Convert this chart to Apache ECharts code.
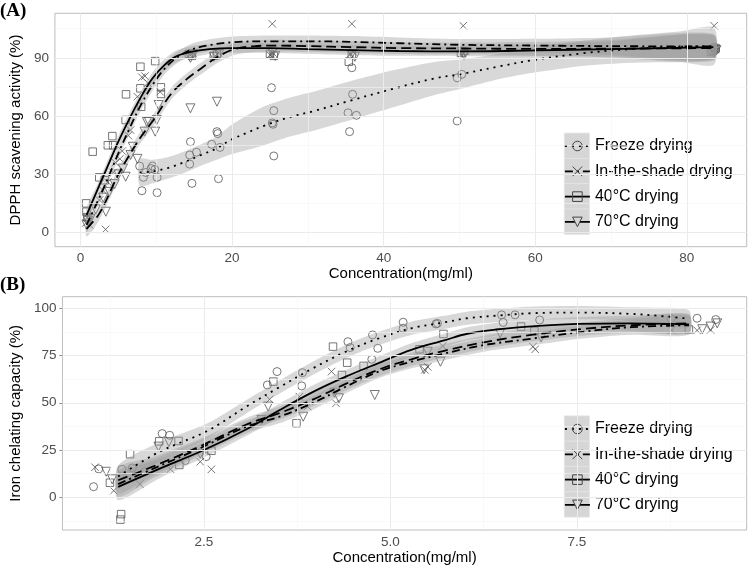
<!DOCTYPE html>
<html><head><meta charset="utf-8">
<script src="https://cdn.jsdelivr.net/npm/echarts@6/dist/echarts.min.js"></script>
<style>html,body{margin:0;padding:0;background:#fff}#c{width:750px;height:569px}</style>
</head><body><div id="c"></div>
<script>
const groupNames = ['Freeze drying', 'In-the-shade drying', '40°C drying', '70°C drying'];

// ---------- Panel A (DPPH) observed points ----------
const aFreezePts = [[7.8,34.3],[8.6,31],[9.3,33],[9.5,34.3],[9.8,32.5],[8.3,28.5],[10.1,28.5],[8.1,21.6],[10.1,20.6],
  [14.5,46.8],[14.4,40],[15.3,41.4],[14.4,35.3],[14.7,25.4],
  [18.0,52],[18.1,51],[17.3,45.5],[18.4,43.9],[18.2,27.8],
  [25.2,74.6],[25.5,62.8],[25.4,55.8],[25.3,56.5],[25.5,39.5],
  [35.8,84.9],[35.9,71.2],[35.3,61.7],[36.4,60.4],[35.5,52],
  [49.7,57.5],[49.7,79.7],[50.3,81.5],
  [83.4,93.5],[83.6,95.5],[83.8,94]];
const aShadePts = [[0.7,5],[0.9,8],[1.2,4],[2.5,16.8],[2.9,22],[3.3,1.7],[3.6,26],[4.3,31],[4.6,36],[5.2,38],[5.5,42],
  [6.3,50],[6.6,52.8],[7.5,70],[8.1,80],[8.5,80.6],[8.9,77],[10.5,72.5],[14.4,91.5],[14.8,92.5],[17.8,91],[18.2,92.5],
  [25.0,91.5],[25.4,92.5],[25.3,107.5],[35.6,92],[36.0,93],[35.8,107.5],[50.4,92.5],[50.8,93.5],[50.5,106.5],
  [83.3,93],[83.7,94.5],[83.6,106.5]];
const a40Pts = [[0.74,15.1],[0.78,10.8],[0.9,8],[1.6,41.7],[2.47,28.5],[3.2,27],[3.6,45],[4.2,49.7],[4.3,45],[5.95,58],
  [6.0,71.2],[7.9,74.3],[7.9,85.4],[8.0,64.8],[9.85,88.3],[10.6,74.8],[10.6,71.4],[14.3,92],[14.7,91],[17.6,91],[18,92],
  [25,92],[25.5,91],[35.4,88],[35.8,91.5],[50.2,92.5],[50.6,93.5],[83.2,93],[83.8,95]];
const a70Pts = [[0.8,4],[1.0,6],[1.3,7],[2.0,12],[3.34,10.8],[3.0,18],[3.8,21],[4.5,25],[5.0,30],[5.6,33],[5.95,28.8],
  [6.6,40],[6.9,44.2],[7.5,38],[8.46,52],[8.76,57],[9.0,57.1],[9.85,52],[10.06,58],[10.3,65.7],[14.5,64],[18.0,67.4],
  [14.5,90],[14.9,92],[17.6,90.5],[18.3,92],[25.3,92.5],[25.7,91],[35.8,92],[36.2,90.5],[50.3,93],[50.6,91.5],
  [83.6,92.5],[83.9,94]];

// ---------- Panel A smooth fits ----------
const aFreezeFitX = [7.8,9.5,11.6,13.5,15.9,18,19.8,22,24.2,27.6,30.7,35.9,41.5,46.7,50.2,55.4,59.7,66.2,72.7,79.3,83.6];
const aFreezeFitY = [31,31.5,33.4,36,40,43.5,47.7,51.5,55,59.5,62.5,68.3,74.3,79.4,81.6,85.7,88.8,92.3,94.5,95.7,96];
const aFreezeFitSe = [7,6,5.5,5.5,5.5,6,7.5,9,10,10,10,10,9.5,8.5,7.5,6.5,6.5,6.5,7,8,9.5];
const aFitX = [0.8,2,3.5,5,6.5,8,9.5,11,12.5,14.5,17,20,25,30,35.7,42,50,60,70,83.5];
const aShadeFitY = [4,14,27,41,54,66,76,84,89.5,94,96.5,98,98.5,98.5,98.2,97.5,96.7,96.3,96,95.8];
const aShadeFitSe = [4,3,3,3,3,3,3,3,3,3,3,3,3,3,3,3,3,3.5,4.5,6.5];
const a40FitY = [9,20,33.5,47,59,70,79.5,86,90.5,93,94.5,95,95,94.5,94,93.5,93.3,93.8,94.5,95.5];
const a40FitSe = [4,3,3,3,3,3,3,3,3,3,2.5,2.5,2.5,2.5,2.5,2.5,2.5,3,4,6.5];
const a70FitX = [0.8,2.25,3.12,5.07,7.68,9.63,12,14,15.9,18.1,20.3,23,25.5,30,35.7,42,50,60,70,83.5];
const a70FitY = [2,8.5,14.5,30.5,47.7,58,71.7,79,84.5,90.5,94.5,96,96.3,96,95.5,95,94.8,94.6,94.7,95];
const a70FitSe = [4,3.5,3,3,3,3,3,3,3,3,3,3,3,3,3,3,3,3.5,4.5,6.5];

// ---------- Panel B (iron chelating) observed points ----------
const bFreezePts = [[1.02,5.6],[1.09,15],[1.40,14.8],[1.54,15.5],[1.71,13.5],[1.94,33.7],[2.04,32.8],[2.25,19.5],[2.53,21.5],
  [3.35,59.4],[3.48,66.5],[3.81,58.9],[3.82,65.9],[4.43,82.3],[4.46,79.2],[4.75,73],[4.76,85.9],[4.83,78.8],
  [5.17,92.6],[5.17,89.4],[5.61,91.7],[5.63,92],[6.49,96.5],[6.51,92.5],[6.67,96.5],[7.0,93.8],[8.76,94.5],[9.11,94.7],[9.36,94]];
const bShadePts = [[1.04,15.9],[1.29,3.5],[1.64,7],[2.05,14.9],[2.45,18.8],[2.6,14.8],[3.38,51.8],[3.78,53.2],[3.89,48],
  [4.21,66.5],[4.27,49.7],[5.46,67.4],[5.50,69],[5.7,80],[6.91,79.7],[6.94,78.3],[8.77,88.5],[9.11,88.3],[9.29,88.5]];
const b40Pts = [[1.24,7.7],[1.38,-11.8],[1.39,-8.9],[1.51,22.8],[1.9,29.6],[2.16,29.8],[2.17,17.1],[2.6,24.6],[3.43,61.2],
  [3.74,39.2],[4.23,79.7],[4.35,64.7],[4.42,71.2],[4.64,69.5],[5.39,78.3],[5.71,86.4],[6.75,90.3],[6.93,88],[9.0,88.8]];
const b70Pts = [[1.19,13.5],[1.27,9.5],[1.89,26.8],[2.03,29.2],[2.45,23],[3.27,40.9],[3.36,48],[3.73,47.6],[3.83,42.6],
  [4.25,55.3],[4.31,52.4],[4.79,54.1],[5.45,67.7],[5.5,77],[5.67,71.7],[6.47,86.8],[7.02,84.5],[9.18,88.9],[9.29,90.3],[9.38,92]];

// ---------- Panel B smooth fits ----------
const bFreezeFitX = [1.35,1.9,2.54,3.07,3.5,3.95,4.4,4.84,5.28,5.72,6.03,6.5,6.91,7.57,8.23,8.5,9.0];
const bFreezeFitY = [11,24,35,48,58,68,77,84,89.4,92.5,94.7,96.3,97.4,97.7,97,96.3,94.5];
const bFreezeFitSe = [6,5,4,3.5,3.5,3.5,3.5,3.5,3.5,3.5,3.5,3.5,3.5,3.5,3.5,4,4.5];
const b40FitX = [1.35,1.9,2.5,3.07,3.51,3.95,4.4,4.84,5.28,5.72,6.03,6.47,7.35,8.23,9.0];
const b40FitY = [5.5,15,25,36,46,55.5,63.8,71,78,83,86.5,89,91.5,92,91.5];
const bFitX = [1.35,1.83,2.45,3.07,3.51,3.95,4.4,4.84,5.28,5.72,6.25,6.91,7.57,8.23,9.0];
const bShadeFitY = [7,15.3,26,37.4,42.6,49.7,58.5,66.5,71.7,76,80.5,84,87.5,90,91];
const b70FitY = [9,16.5,27,38.5,44.5,51.5,60,67.5,73,77.5,82,86,89,91,92];
const bFitSe = [7,5,4,3.5,3.5,3.5,3.5,3.5,3.5,3.5,3.5,3.5,3.5,4,5];

// ---------- ticks / grid ----------
const aXTicks = [0,20,40,60,80], aYTicks = [0,30,60,90];
const aXMinor = [10,30,50,70], aYMinor = [15,45,75,105];
const bXTicks = [2.5,5,7.5], bYTicks = [0,25,50,75,100];
const bXMinor = [1.25,3.75,6.25,8.75], bYMinor = [-12.5,12.5,37.5,62.5,87.5];

const FONT = '"Liberation Sans", Arial, sans-serif';
const symbols = ['circle', 'path://M0,0L10,10M10,0L0,10', 'rect', 'triangle'];
const symRot = [0, 0, 0, 180];
const symSize = [8, 7.5, 7.5, 9];
const dashes = [[2,5], [8,4,2,4], 'solid', [10,5]];

function zip(xs, ys) { return xs.map((x, i) => [x, ys[i]]); }

function scatter(gi, pts, k) {
  return { type: 'scatter', name: 'pts' + gi + k, xAxisIndex: gi, yAxisIndex: gi, data: pts, z: 2,
    symbol: symbols[k], symbolRotate: symRot[k], symbolSize: symSize[k], silent: true,
    itemStyle: { color: 'rgba(0,0,0,0)', borderColor: '#555', borderWidth: 1 } };
}
function band(gi, xs, ys, se) {
  return { type: 'custom', xAxisIndex: gi, yAxisIndex: gi, z: 3, silent: true,
    data: [[xs[0], ys[0]]],
    renderItem: (params, api) => {
      const pts = [];
      for (let i = 0; i < xs.length; i++) pts.push(api.coord([xs[i], ys[i] + se[i]]));
      for (let i = xs.length - 1; i >= 0; i--) pts.push(api.coord([xs[i], ys[i] - se[i]]));
      return { type: 'polygon', shape: { points: pts, smooth: 0.25 }, style: { fill: 'rgba(153,153,153,0.38)' } };
    } };
}
function fit(gi, xs, ys, k) {
  return { type: 'line', name: groupNames[k], xAxisIndex: gi, yAxisIndex: gi, data: zip(xs, ys), z: 4,
    smooth: 0.35, showSymbol: false, symbol: symbols[k], symbolRotate: symRot[k], silent: true,
    itemStyle: { color: 'rgba(0,0,0,0)', borderColor: '#444', borderWidth: 1 },
    lineStyle: { color: '#000', width: 1.8, type: dashes[k] } };
}
function gridLines(gi, xMaj, yMaj, xMin, yMin) {
  const maj = { color: '#ebebeb', width: 1 }, mn = { color: '#f5f5f5', width: 0.6 };
  const d = [];
  xMin.forEach(v => d.push({ xAxis: v, lineStyle: mn }));
  yMin.forEach(v => d.push({ yAxis: v, lineStyle: mn }));
  xMaj.forEach(v => d.push({ xAxis: v, lineStyle: maj }));
  yMaj.forEach(v => d.push({ yAxis: v, lineStyle: maj }));
  return { type: 'line', name: 'grid' + gi, xAxisIndex: gi, yAxisIndex: gi, data: [], z: 0, silent: true,
    markLine: { silent: true, symbol: ['none', 'none'], label: { show: false }, animation: false,
      lineStyle: { type: 'solid' }, data: d } };
}
function xAxis(gi, min, max, ticks, name, gap, fmt) {
  return { type: 'value', gridIndex: gi, min: min, max: max, splitLine: { show: false },
    axisLine: { show: false },
    axisTick: { show: true, customValues: ticks, length: 3, lineStyle: { color: '#888' } },
    axisLabel: { customValues: ticks, color: '#4d4d4d', fontSize: 13.5, fontFamily: FONT, margin: 5, formatter: fmt },
    name: name, nameLocation: 'middle', nameGap: gap, nameTextStyle: { color: '#000', fontSize: 15, fontFamily: FONT } };
}
function yAxis(gi, min, max, ticks, name, gap) {
  return { type: 'value', gridIndex: gi, min: min, max: max, splitLine: { show: false },
    axisLine: { show: false },
    axisTick: { show: true, customValues: ticks, length: 3, lineStyle: { color: '#888' } },
    axisLabel: { customValues: ticks, color: '#4d4d4d', fontSize: 13.5, fontFamily: FONT, margin: 6 },
    name: name, nameLocation: 'middle', nameGap: gap, nameTextStyle: { color: '#000', fontSize: 15, fontFamily: FONT } };
}
function legend(top) {
  return { data: groupNames, orient: 'vertical', left: 564, top: top, padding: 0, itemWidth: 25, itemHeight: 12,
    itemGap: 9.3, selectedMode: false,
    itemStyle: { borderWidth: 1, borderColor: '#444', color: 'rgba(0,0,0,0)' },
    lineStyle: { width: 1.8 },
    textStyle: { fontSize: 16, fontFamily: FONT, color: '#000', lineHeight: 16 } };
}
function keyBoxes(top) {
  const g = [];
  for (let i = 0; i < 4; i++) g.push({ type: 'rect', left: 564, top: top + i * 25.3, z: -1,
    shape: { width: 25, height: 25.3 }, style: { fill: '#d6d6d6', stroke: '#e3e3e3', lineWidth: 0.8 } });
  return g;
}

const series = [
  gridLines(0, aXTicks, aYTicks, aXMinor, aYMinor),
  gridLines(1, bXTicks, bYTicks, bXMinor, bYMinor),
  fit(0, aFreezeFitX, aFreezeFitY, 0), fit(0, aFitX, aShadeFitY, 1), fit(0, aFitX, a40FitY, 2), fit(0, a70FitX, a70FitY, 3),
  fit(1, bFreezeFitX, bFreezeFitY, 0), fit(1, bFitX, bShadeFitY, 1), fit(1, b40FitX, b40FitY, 2), fit(1, bFitX, b70FitY, 3),
  scatter(0, aFreezePts, 0), scatter(0, aShadePts, 1), scatter(0, a40Pts, 2), scatter(0, a70Pts, 3),
  scatter(1, bFreezePts, 0), scatter(1, bShadePts, 1), scatter(1, b40Pts, 2), scatter(1, b70Pts, 3),
  band(0, aFreezeFitX, aFreezeFitY, aFreezeFitSe), band(0, aFitX, aShadeFitY, aShadeFitSe),
  band(0, aFitX, a40FitY, a40FitSe), band(0, a70FitX, a70FitY, a70FitSe),
  band(1, bFreezeFitX, bFreezeFitY, bFreezeFitSe), band(1, bFitX, bShadeFitY, bFitSe),
  band(1, b40FitX, b40FitY, bFitSe), band(1, bFitX, b70FitY, bFitSe)
];

const chart = echarts.init(document.getElementById('c'), null, { renderer: 'canvas' });
chart.setOption({
  animation: false,
  backgroundColor: '#fff',
  grid: [
    { left: 45, top: 13.3, width: 701.7, height: 233.4, show: true, borderColor: '#bdbdbd', borderWidth: 1, backgroundColor: 'rgba(0,0,0,0)' },
    { left: 53.3, top: 296.7, width: 693.4, height: 233.3, show: true, borderColor: '#bdbdbd', borderWidth: 1, backgroundColor: 'rgba(0,0,0,0)' }
  ],
  xAxis: [
    xAxis(0, -3.38, 87.9, aXTicks, 'Concentration(mg/ml)', 19),
    xAxis(1, 0.603, 9.775, bXTicks, 'Concentration(mg/ml)', 17, v => v.toFixed(1))
  ],
  yAxis: [
    yAxis(0, -7.2, 112.9, aYTicks, 'DPPH scavening activity (%)', 24.5),
    yAxis(1, -17.3, 106.1, bYTicks, 'Iron chelating capacity (%)', 33)
  ],
  legend: [legend(138), legend(421)],
  graphic: [
    ...keyBoxes(132.7), ...keyBoxes(415.5),
    { type: 'text', left: 0, top: 2, style: { text: '(A)', font: 'bold 19px "Liberation Serif", serif', fill: '#000' } },
    { type: 'text', left: 0, top: 276, style: { text: '(B)', font: 'bold 19px "Liberation Serif", serif', fill: '#000' } }
  ],
  series: series
});
</script></body></html>
